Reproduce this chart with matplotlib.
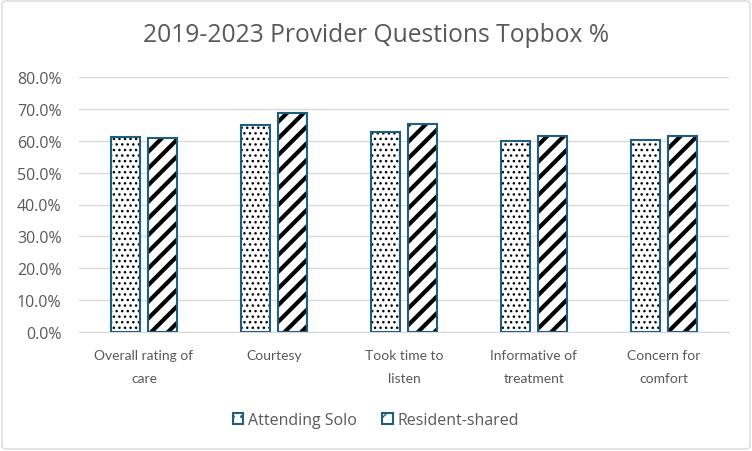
import numpy as np
import matplotlib.pyplot as plt
from matplotlib.ticker import PercentFormatter
from matplotlib.patches import FancyBboxPatch, Patch

categories = ['Overall rating of\ncare', 'Courtesy', 'Took time to\nlisten',
              'Informative of\ntreatment', 'Concern for\ncomfort']
attending = [61.3, 64.8, 62.7, 59.8, 60.1]
resident = [60.9, 68.8, 65.3, 61.5, 61.5]

plt.rcParams['font.family'] = ['Open Sans', 'DejaVu Sans']
plt.rcParams['hatch.linewidth'] = 1.0
gray = '#595959'
edge = '#1F5E7E'

fig = plt.figure(figsize=(7.52, 4.52), dpi=100)
ax = fig.add_axes([79 / 752, 1 - 333 / 452, 650 / 752, 255 / 452])

x = np.arange(len(categories))
w = 0.23
off = 0.142

# hatch fills (hatch colour follows edgecolor), then blue outlines on top
ax.bar(x - off, attending, w, color='white', edgecolor='black', hatch='...', linewidth=0, zorder=2)
with plt.rc_context({'hatch.linewidth': 3.0}):
    ax.bar(x + off, resident, w, color='white', edgecolor='black', hatch='//', linewidth=0, zorder=2)
ax.bar(x - off, attending, w, fill=False, edgecolor=edge, linewidth=1.5, zorder=3)
ax.bar(x + off, resident, w, fill=False, edgecolor=edge, linewidth=1.5, zorder=3)

ax.set_xlim(-0.5, len(categories) - 0.5)
ax.set_ylim(0, 80)
ax.set_yticks(np.arange(0, 81, 10))
ax.yaxis.set_major_formatter(PercentFormatter(decimals=1))
ax.grid(axis='y', color='#D9D9D9', linewidth=1, zorder=0)
ax.set_axisbelow(True)
for s in ['top', 'right', 'left']:
    ax.spines[s].set_visible(False)
ax.spines['bottom'].set_color('#D9D9D9')
ax.tick_params(length=0, colors=gray)
ax.tick_params(axis='y', pad=12.5, labelsize=11.5)
ax.tick_params(axis='x', pad=12)
ax.set_xticks(x)
ax.set_xticklabels(categories, linespacing=2.1, family=['Lato', 'DejaVu Sans'], fontsize=10)

fig.text(0.5, 1 - 36 / 452, '2019-2023 Provider Questions Topbox %', ha='center', va='center',
         fontsize=17.7, color=gray)

# legend
handles = [Patch(facecolor='white', edgecolor=edge, hatch='..', linewidth=1.5, label='Attending Solo'),
           Patch(facecolor='white', edgecolor=edge, hatch='//', linewidth=1.5, label='Resident-shared')]
leg = fig.legend(handles=handles, loc='center', bbox_to_anchor=(0.5, 1 - 421 / 452), ncol=2,
                 frameon=False, fontsize=11.5, handlelength=0.65, handleheight=0.65,
                 handletextpad=0.3, columnspacing=1.6)
for t in leg.get_texts():
    t.set_color(gray)

fig.patches.append(FancyBboxPatch((2, 2), 748, 448, boxstyle='round,pad=0,rounding_size=4',
                                  transform=None, fill=False, edgecolor='#D9D9D9', linewidth=1))

fig.savefig('out.png', dpi=100)
